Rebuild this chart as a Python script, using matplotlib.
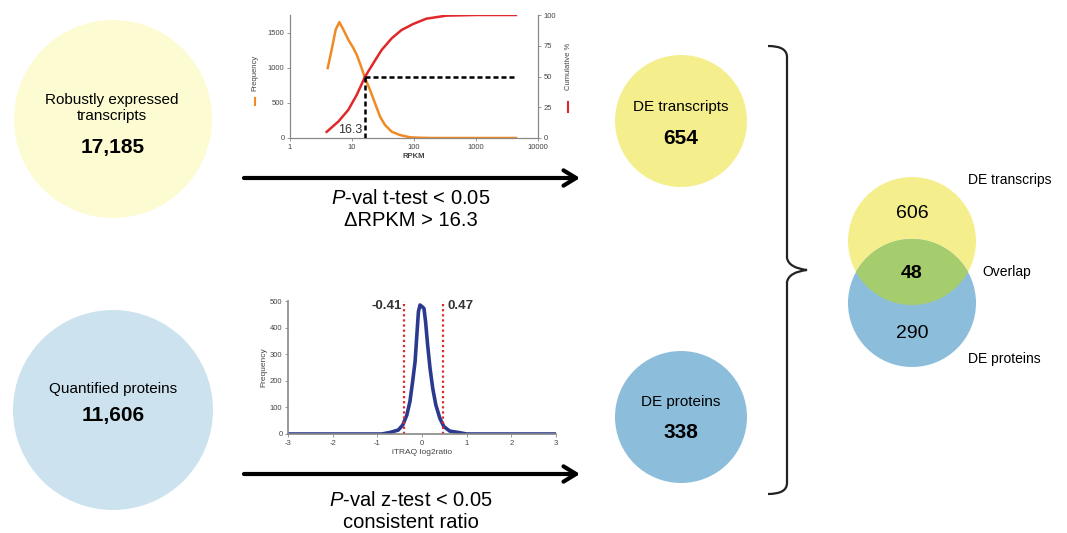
import numpy as np
import matplotlib
matplotlib.use("Agg")
from matplotlib import pyplot as plt
from matplotlib.patches import Circle, PathPatch
from matplotlib.path import Path
from matplotlib.ticker import FixedLocator, FixedFormatter

plt.rcParams['font.family'] = ['Liberation Sans', 'DejaVu Sans']
plt.rcParams['mathtext.fontset'] = 'custom'
plt.rcParams['mathtext.rm'] = 'Liberation Sans'
plt.rcParams['mathtext.it'] = 'Liberation Sans:italic'
plt.rcParams['axes.unicode_minus'] = False

W, H = 1067, 533

# RPKM distribution (top small chart)
rpkm = [4.06, 4.7, 5.46, 6.25, 7.25, 8.7, 10.5, 11.9, 14, 16.2, 19.5, 23.5,
        28.3, 34, 43.6, 59, 86, 130, 200, 400, 4400]
freq = [995, 1257, 1543, 1648, 1543, 1400, 1281, 1186, 1019, 852, 686, 495,
        305, 186, 90, 43, 10, 3, 0, 0, 0]
cum_rpkm = [3.9, 6.0, 8.7, 11.9, 16.3, 22, 30, 43.6, 63, 97, 158, 336, 1000, 4400]
cum_pct = [5, 13.3, 22.8, 35, 50, 60.7, 71.5, 81, 87.8, 92.7, 97, 99.5, 100, 100]
rpkm_cut = 16.3

# iTRAQ distribution (bottom small chart)
ratio = [-3, -0.9, -0.71, -0.53, -0.43, -0.34, -0.27, -0.21, -0.155, -0.12,
         -0.08, -0.044, 0, 0.044, 0.08, 0.126, 0.18, 0.24, 0.31, 0.4, 0.49,
         0.62, 0.84, 1.0, 3]
ratio_freq = [0, 0, 6, 15, 34, 71, 122, 197, 272, 360,
              460, 485, 479, 472, 422, 335, 247, 172, 109, 59, 28,
              11, 5, 0, 0]
ratio_cuts = [-0.41, 0.47]

# counts
n_robust = "17,185"
n_quant = "11,606"
n_de_tx = "654"
n_de_prot = "338"
venn_tx_only = "606"
venn_overlap = "48"
venn_prot_only = "290"

fig = plt.figure(figsize=(W / 100, H / 100), dpi=100)
ov = fig.add_axes([0, 0, 1, 1])
ov.set_xlim(0, W)
ov.set_ylim(H, 0)
ov.axis('off')

pale_yellow = "#FDFBD2"
pale_blue = "#CCE3EF"
yellow = "#F4EF8C"
blue = "#8CBEDC"
green = "#A5CD6E"

# big circles
ov.add_patch(Circle((113, 119), 99, color=pale_yellow, lw=0))
ov.text(112, 108, "Robustly expressed\ntranscripts", ha='center', va='center',
        fontsize=11, linespacing=1.1)
ov.text(113, 148, n_robust, ha='center', va='center', fontsize=15, fontweight='bold')

ov.add_patch(Circle((113, 410), 100, color=pale_blue, lw=0))
ov.text(113, 389, "Quantified proteins", ha='center', va='center', fontsize=11)
ov.text(113, 415, n_quant, ha='center', va='center', fontsize=15, fontweight='bold')

# DE circles
ov.add_patch(Circle((681, 121), 66, color=yellow, lw=0))
ov.text(681, 107, "DE transcripts", ha='center', va='center', fontsize=11)
ov.text(681, 138, n_de_tx, ha='center', va='center', fontsize=15, fontweight='bold')

ov.add_patch(Circle((681, 417), 66, color=blue, lw=0))
ov.text(681, 402, "DE proteins", ha='center', va='center', fontsize=11)
ov.text(681, 433, n_de_prot, ha='center', va='center', fontsize=15, fontweight='bold')

# arrows
for y in (178, 474):
    ov.annotate("", xy=(580, y), xytext=(244, y),
                arrowprops=dict(arrowstyle="->,head_length=0.9,head_width=0.55",
                                lw=3, color='black', shrinkA=0, shrinkB=0))
ov.text(411, 198, r"$\mathit{P}$-val t-test < 0.05", ha='center', va='center', fontsize=14.5)
ov.text(411, 221, "\u0394RPKM > 16.3", ha='center', va='center', fontsize=14.5)
ov.text(411, 500, r"$\mathit{P}$-val z-test < 0.05", ha='center', va='center', fontsize=14.5)
ov.text(411, 523, "consistent ratio", ha='center', va='center', fontsize=14.5)

# brace
verts = [(768, 46), (787, 46), (787, 57),
         (787, 258), (789, 268), (807, 270),
         (789, 272), (787, 282),
         (787, 483), (787, 494), (768, 494)]
codes = [Path.MOVETO, Path.CURVE3, Path.CURVE3,
         Path.LINETO, Path.CURVE3, Path.CURVE3,
         Path.CURVE3, Path.CURVE3,
         Path.LINETO, Path.CURVE3, Path.CURVE3]
ov.add_patch(PathPatch(Path(verts, codes), fill=False, lw=1.6, color='#222222'))

# venn
c_blue = Circle((912, 303), 64, color=blue, lw=0)
c_yel = Circle((912, 241), 64, color=yellow, lw=0)
ov.add_patch(c_yel)
ov.add_patch(c_blue)
ov_green = Circle((912, 241), 64, color=green, lw=0)
ov.add_patch(ov_green)
ov_green.set_clip_path(c_blue)
ov.text(912, 214, venn_tx_only, ha='center', va='center', fontsize=14)
ov.text(912, 273, venn_overlap, ha='center', va='center', fontsize=14, fontweight='bold')
ov.text(912, 334, venn_prot_only, ha='center', va='center', fontsize=14)
ov.text(968, 180, "DE transcrips", ha='left', va='center', fontsize=10)
ov.text(982, 272, "Overlap", ha='left', va='center', fontsize=10)
ov.text(968, 359, "DE proteins", ha='left', va='center', fontsize=10)


def px_axes(x0, y_top, x1, y_bot):
    return fig.add_axes([x0 / W, 1 - y_bot / H, (x1 - x0) / W, (y_bot - y_top) / H])


spine_c = '#888888'
tick_c = '#444444'

# top chart
ax1 = px_axes(290, 15, 538, 138)
ax1.patch.set_alpha(0)
ax1.set_xscale('log')
ax1.set_xlim(1, 10000)
ax1.set_ylim(0, 1750)
ax1.plot(rpkm, freq, color='#F08A24', lw=1.8)
ax1.xaxis.set_major_locator(FixedLocator([1, 10, 100, 1000, 10000]))
ax1.xaxis.set_major_formatter(FixedFormatter(['1', '10', '100', '1000', '10000']))
ax1.xaxis.set_minor_locator(FixedLocator([]))
ax1.set_yticks([0, 500, 1000, 1500])
ax1.tick_params(labelsize=5.5, length=2, width=0.6, color=spine_c, labelcolor=tick_c, pad=2)
ax1.set_xlabel("RPKM", fontsize=5.5, fontweight='bold', labelpad=2, color=tick_c)
ax1.set_ylabel("Frequency", fontsize=5.5, color=tick_c)
ax1.yaxis.set_label_coords(-0.129, 0.53)
ax1.spines['top'].set_visible(False)
for s in ('left', 'bottom', 'right'):
    ax1.spines[s].set_color(spine_c)
ax1.plot([-0.143, -0.143], [0.27, 0.325], color='#F08A24', lw=1.5,
         transform=ax1.transAxes, clip_on=False)

ax1r = ax1.twinx()
ax1r.set_ylim(0, 100)
ax1r.plot(cum_rpkm, cum_pct, color='#E0282A', lw=1.8)
ax1r.plot([rpkm_cut, 4400], [50, 50], color='black', lw=1.8, ls=(0, (2, 1.2)))
ax1r.plot([rpkm_cut, rpkm_cut], [0, 50], color='black', lw=1.8, ls=(0, (2, 1.2)))
ax1r.text(rpkm_cut * 0.9, 1.5, "16.3", ha='right', va='bottom', fontsize=9, color='#333333')
ax1r.set_yticks([0, 25, 50, 75, 100])
ax1r.tick_params(labelsize=5.5, length=2, width=0.6, color=spine_c, labelcolor=tick_c, pad=2)
ax1r.set_ylabel("Cumulative %", fontsize=5.5, color=tick_c)
ax1r.yaxis.set_label_coords(1.109, 0.58)
ax1r.spines['top'].set_visible(False)
for s in ('left', 'bottom', 'right'):
    ax1r.spines[s].set_color(spine_c)
ax1r.plot([1.12, 1.12], [0.21, 0.29], color='#E0282A', lw=1.5,
          transform=ax1r.transAxes, clip_on=False)

# bottom chart
ax2 = px_axes(288, 301, 556, 434)
ax2.patch.set_alpha(0)
ax2.set_xlim(-3, 3)
ax2.set_ylim(0, 500)
ax2.plot(ratio, ratio_freq, color='#2B3A8E', lw=2.6)
for c in ratio_cuts:
    ax2.axvline(c, color='#E0282A', lw=1.6, ls=(0, (1, 1.3)))
ax2.text(ratio_cuts[0] - 0.05, 480, "-0.41", ha='right', va='center', fontsize=9.5,
         fontweight='bold', color='#333333')
ax2.text(ratio_cuts[1] + 0.1, 480, "0.47", ha='left', va='center', fontsize=9.5,
         fontweight='bold', color='#333333')
ax2.set_xticks([-3, -2, -1, 0, 1, 2, 3])
ax2.set_yticks([0, 100, 200, 300, 400, 500])
ax2.tick_params(labelsize=5.5, length=2, width=0.6, color=spine_c, labelcolor=tick_c, pad=2)
ax2.set_xlabel("iTRAQ log2ratio", fontsize=6, labelpad=2, color=tick_c)
ax2.set_ylabel("Frequency", fontsize=6, labelpad=2, color=tick_c)
ax2.spines['top'].set_visible(False)
ax2.spines['right'].set_visible(False)
for s in ('left', 'bottom'):
    ax2.spines[s].set_color(spine_c)
    ax2.spines[s].set_linewidth(1.2)

fig.savefig("out.png", dpi=100)
